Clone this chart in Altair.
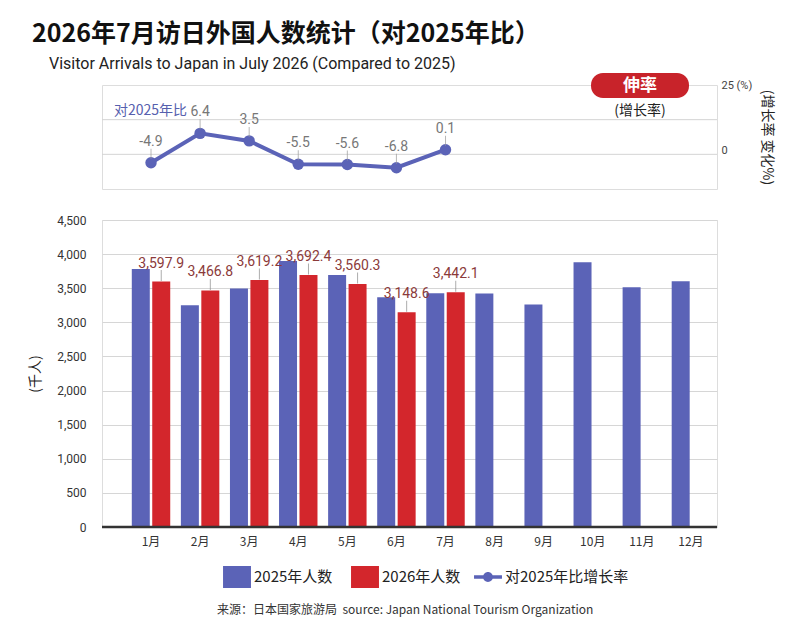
import altair as alt
import pandas as pd

# ---------------- data ----------------
months = ["1月", "2月", "3月", "4月", "5月", "6月", "7月", "8月", "9月", "10月", "11月", "12月"]
v2025 = [3782, 3250, 3495, 3900, 3695, 3367, 3426, 3421, 3260, 3881, 3515, 3603]
v2026 = [3597.9, 3466.8, 3619.2, 3692.4, 3560.3, 3148.6, 3442.1]
yoy = [-4.9, 6.4, 3.5, -5.5, -5.6, -6.8, 0.1]
series_names = ["2025年人数", "2026年人数"]
series_colors = ["#5B63B7", "#D3262C"]
line_name = "对2025年比增长率"
bar_ticks = [0, 500, 1000, 1500, 2000, 2500, 3000, 3500, 4000, 4500]
rate_labels = [25, 0]
rate_grid = [11.67, -1.67]

BLUE = "#5B63B7"
FONT = "Roboto, 'Noto Sans CJK SC', sans-serif"
CJK = "'Noto Sans CJK SC', Roboto, sans-serif"
RECT_SYM = "M-1.27,-1L1.27,-1L1.27,1L-1.27,1Z"
LINE_SYM = ("M-1.27,-0.17L1.27,-0.17L1.27,0.17L-1.27,0.17Z "
            "M0.45,0A0.45,0.45,0,1,1,-0.45,0A0.45,0.45,0,1,1,0.45,0Z")

rows = []
for i, m in enumerate(months):
    rows.append({"month": m, "series": series_names[0], "value": v2025[i]})
    if i < len(v2026):
        rows.append({"month": m, "series": series_names[1], "value": v2026[i]})
bar_df = pd.DataFrame(rows)

lab_df = pd.DataFrame({"month": months[:len(v2026)], "value": v2026})
lab_df["series"] = series_names[1]
lab_df["label"] = [f"{v:,.1f}" for v in v2026]

line_df = pd.DataFrame({"month": months[:len(yoy)], "yoy": yoy})
line_df["label"] = [f"{v:.1f}" for v in yoy]
line_df["s"] = line_name

grid_df = pd.DataFrame({"g": rate_grid})
one = alt.Data(values=[{"a": 1}])

W = 615


def xs():
    return alt.Scale(domain=months, paddingInner=0.2, paddingOuter=0.365, align=0.82)


def xo():
    return alt.Scale(domain=series_names, paddingInner=0.12, paddingOuter=0.02)


# ---------------- line panel ----------------
yl = alt.Scale(domain=[-15, 25])
right_axis = alt.Axis(orient="right", values=rate_labels, grid=False, ticks=False, domain=False,
                      labelExpr="datum.value == 25 ? '25 (%)' : '0'", labelFontSize=11,
                      labelColor="#444", labelPadding=4, title="(增长率 变化%)", titleAngle=90,
                      titleFontSize=14, titleFontWeight="normal", titleFont=CJK, titleColor="#222",
                      titlePadding=8)

base_l = alt.Chart(line_df).encode(
    x=alt.X("month:N", scale=xs(), axis=None),
    y=alt.Y("yoy:Q", scale=yl, axis=right_axis),
)
grid_l = alt.Chart(grid_df).mark_rule(color="#d4d4d4", strokeWidth=1).encode(
    y=alt.Y("g:Q", scale=yl, axis=right_axis))
line = base_l.mark_line(color=BLUE, strokeWidth=4)
pts = base_l.mark_point(filled=True, size=130, color=BLUE, opacity=1)
ldr_l = base_l.mark_tick(orient="vertical", size=10, thickness=1, color="#9a9a9a", yOffset=-9)
lbl_l = base_l.mark_text(dy=-21, fontSize=14, color="#777777", font=FONT).encode(text="label:N")

pill = alt.Chart(one).mark_rect(cornerRadius=12, color="#C8232A").encode(
    x=alt.value(489), x2=alt.value(587), y=alt.value(-12), y2=alt.value(13))
pill_t = alt.Chart(one).mark_text(text="伸率", color="white", fontSize=17, fontWeight="bold",
                                  font=CJK).encode(x=alt.value(538), y=alt.value(1))
sub_t = alt.Chart(one).mark_text(text="(增长率)", color="#222", fontSize=14,
                                 font=CJK).encode(x=alt.value(538), y=alt.value(26))
ann_t = alt.Chart(one).mark_text(text="对2025年比", color="#5660AE", fontSize=14, align="left",
                                 font=CJK).encode(x=alt.value(12), y=alt.value(26))
subtitle_t = alt.Chart(one).mark_text(
    text="Visitor Arrivals to Japan in July 2026 (Compared to 2025)", color="#222", fontSize=16,
    align="left", baseline="alphabetic", font=FONT).encode(x=alt.value(-53), y=alt.value(-16))

line_panel = alt.layer(grid_l, line, pts, ldr_l, lbl_l, pill, pill_t, sub_t, ann_t,
                       subtitle_t).properties(
    width=W, height=104,
    title=alt.TitleParams(
        text="2026年7月访日外国人数统计（对2025年比）",
        anchor="start", dx=-17, fontSize=25, fontWeight="bold", font=CJK, color="#111",
        offset=9),
)

# ---------------- bar panel ----------------
ybar = alt.Scale(domain=[0, 4500])
x_axis = alt.Axis(title=None, labelAngle=0, ticks=False, domain=False, labelPadding=9,
                  labelFontSize=12, labelColor="#333", labelFont=CJK)
y_axis = alt.Axis(values=bar_ticks, format=",d", title="(千人)", titleFontSize=14,
                  titleFontWeight="normal", titleFont=CJK, titleColor="#222",
                  titlePadding=14, labelFontSize=12, labelColor="#333", labelPadding=16,
                  ticks=False, domain=False, gridColor="#d6d6d6")

bars = alt.Chart(bar_df).mark_bar().encode(
    x=alt.X("month:N", scale=xs(), axis=x_axis),
    xOffset=alt.XOffset("series:N", scale=xo()),
    y=alt.Y("value:Q", scale=ybar, axis=y_axis),
    color=alt.Color("series:N", scale=alt.Scale(domain=series_names, range=series_colors),
                    legend=alt.Legend(
                        orient="none", legendX=124, legendY=346, direction="horizontal",
                        title=None, labelFontSize=15, labelFont=CJK, labelColor="#222",
                        symbolSize=484, symbolStrokeWidth=0, columnPadding=18, labelOffset=6,
                        symbolType=RECT_SYM)),
)
# legend-only layer for the line series (no marks drawn)
line_key = alt.Chart(line_df).transform_filter("false").mark_point(
    filled=True, color=BLUE, opacity=1).encode(
    shape=alt.Shape("s:N", scale=alt.Scale(domain=[line_name], range=[LINE_SYM]),
                    legend=alt.Legend(orient="none", legendX=375, legendY=346, title=None,
                                      labelFontSize=15, labelFont=CJK, labelColor="#222",
                                      symbolSize=484, symbolStrokeWidth=0, labelOffset=6,
                                      symbolFillColor=BLUE)))
base_lab = alt.Chart(lab_df).encode(
    x=alt.X("month:N", scale=xs(), axis=x_axis),
    xOffset=alt.XOffset("series:N", scale=xo()),
    y=alt.Y("value:Q", scale=ybar, axis=y_axis),
)
ldr_b = base_lab.mark_tick(orient="vertical", size=11, thickness=1, color="#8a8a8a", yOffset=-6)
lbl_b = base_lab.mark_text(dy=-18, fontSize=14, color="#8B3A3A", font=FONT).encode(text="label:N")
zero = alt.Chart(pd.DataFrame({"z": [0]})).mark_rule(color="#333", strokeWidth=2.5).encode(
    y=alt.Y("z:Q", scale=ybar, axis=y_axis))

bar_panel = alt.layer(bars, line_key, ldr_b, lbl_b, zero).properties(width=W, height=307)

chart = alt.vconcat(line_panel, bar_panel, spacing=23).resolve_scale(
    color="independent", shape="independent").properties(
    title=alt.TitleParams(
        text="来源：日本国家旅游局\u00a0\u00a0source: Japan National Tourism Organization",
        orient="bottom", anchor="middle", fontSize=12, fontWeight="normal", font=CJK,
        color="#333", offset=16, dx=4),
    padding={"left": 20, "top": 13, "right": 5, "bottom": 5},
).configure_view(stroke="#c8c8c8").configure(font=FONT)

chart.save("out.html", embed_options={"renderer": "svg", "actions": False})
